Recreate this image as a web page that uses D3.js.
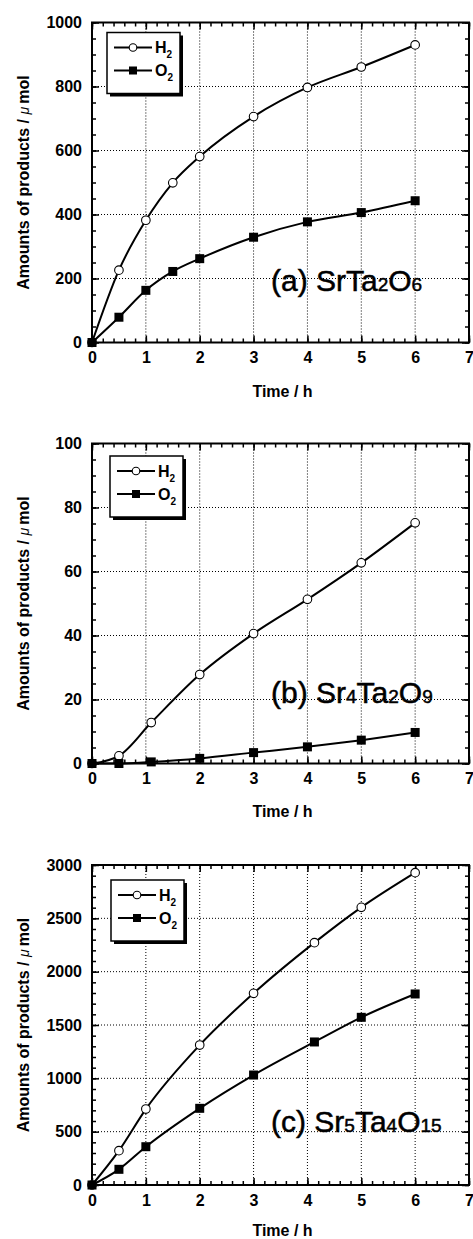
<!DOCTYPE html>
<html>
<head>
<meta charset="utf-8">
<script src="https://cdn.jsdelivr.net/npm/d3@7"></script>
<style>
body { margin: 0; background: #fff; }
text { font-family: "Liberation Sans", Arial, Helvetica, sans-serif; }
</style>
</head>
<body>
<svg width="473" height="1239"></svg>
<script>
// data
var xTicks = [0, 1, 2, 3, 4, 5, 6, 7];

var timeA = [0, 0.5, 1, 1.5, 2, 3, 4, 5, 6];
var h2A = [0, 226, 382, 499, 581, 706, 797, 861, 930];
var o2A = [0, 79, 163, 222, 262, 329, 377, 406, 443];
var yTicksA = [0, 200, 400, 600, 800, 1000];
var labelA = ["(a) SrTa", "2", "O", "6"];

var timeB = [0, 0.5, 1.1, 2, 3, 4, 5, 6];
var h2B = [0, 2.4, 12.8, 27.8, 40.6, 51.3, 62.7, 75.2];
var o2B = [0, 0, 0.5, 1.6, 3.4, 5.2, 7.3, 9.7];
var yTicksB = [0, 20, 40, 60, 80, 100];
var labelB = ["(b) Sr", "4", "Ta", "2", "O", "9"];

var timeC = [0, 0.5, 1, 2, 3, 4.13, 5, 6];
var h2C = [0, 322, 712, 1312, 1797, 2272, 2603, 2928];
var o2C = [0, 147, 359, 719, 1031, 1341, 1572, 1791];
var yTicksC = [0, 500, 1000, 1500, 2000, 2500, 3000];
var labelC = ["(c) Sr", "5", "Ta", "4", "O", "15"];

var seriesNames = ["H", "O"];

var svg = d3.select('svg');
var left = 92, plotW = 377, plotH = 320;

var panels = [
  {top: 22.5, time: timeA, h2: h2A, o2: o2A, yTicks: yTicksA, minor: 50, label: labelA, labelY: 52, leg: [15, 10], titleY: 54},
  {top: 443.5, time: timeB, h2: h2B, o2: o2B, yTicks: yTicksB, minor: 5, label: labelB, labelY: 61, leg: [18, 12.5], titleY: 53},
  {top: 865, time: timeC, h2: h2C, o2: o2C, yTicks: yTicksC, minor: 100, label: labelC, labelY: 53, leg: [19, 15], titleY: 51}
];

function styleAxis(a) {
  a.select('.domain').remove();
  a.selectAll('line').attr('stroke', '#000').attr('stroke-width', 1.5);
  a.attr('font-family', '"Liberation Sans", Arial, sans-serif')
   .attr('font-size', 16).attr('font-weight', 'bold');
  a.selectAll('text').attr('fill', '#000');
}

panels.forEach(function(p) {
  var yMax = p.yTicks[p.yTicks.length - 1];
  var x = d3.scaleLinear().domain([0, 7]).range([0, plotW]);
  var y = d3.scaleLinear().domain([0, yMax]).range([plotH, 0]);
  var g = svg.append('g').attr('transform', 'translate(' + left + ',' + p.top + ')');

  // dotted grid
  g.selectAll('.gx').data(xTicks.slice(1, -1)).enter().append('line')
    .attr('x1', function(d) { return x(d); }).attr('x2', function(d) { return x(d); })
    .attr('y1', 0).attr('y2', plotH)
    .attr('stroke', '#000').attr('stroke-width', 1).attr('stroke-dasharray', '1,2');
  g.selectAll('.gy').data(p.yTicks.slice(1, -1)).enter().append('line')
    .attr('y1', function(d) { return y(d); }).attr('y2', function(d) { return y(d); })
    .attr('x1', 0).attr('x2', plotW)
    .attr('stroke', '#000').attr('stroke-width', 1).attr('stroke-dasharray', '1,2');

  var xMinor = d3.range(0, 7.001, 0.2);
  var yMinor = d3.range(0, yMax + 0.001, p.minor);

  // minor ticks, all four sides, pointing inward
  styleAxis(g.append('g').attr('transform', 'translate(0,' + plotH + ')')
    .call(d3.axisBottom(x).tickValues(xMinor).tickSize(-4).tickFormat('')));
  styleAxis(g.append('g')
    .call(d3.axisTop(x).tickValues(xMinor).tickSize(-4).tickFormat('')));
  styleAxis(g.append('g')
    .call(d3.axisLeft(y).tickValues(yMinor).tickSize(-4).tickFormat('')));
  styleAxis(g.append('g').attr('transform', 'translate(' + plotW + ',0)')
    .call(d3.axisRight(y).tickValues(yMinor).tickSize(-4).tickFormat('')));

  // major ticks with labels
  styleAxis(g.append('g').attr('transform', 'translate(0,' + plotH + ')')
    .call(d3.axisBottom(x).tickValues(xTicks).tickSize(-7).tickPadding(9.5).tickFormat(d3.format('d'))));
  styleAxis(g.append('g')
    .call(d3.axisTop(x).tickValues(xTicks).tickSize(-7).tickFormat('')));
  styleAxis(g.append('g')
    .call(d3.axisLeft(y).tickValues(p.yTicks).tickSize(-7).tickPadding(10).tickFormat(d3.format('d'))));
  styleAxis(g.append('g').attr('transform', 'translate(' + plotW + ',0)')
    .call(d3.axisRight(y).tickValues(p.yTicks).tickSize(-7).tickFormat('')));

  // frame
  g.append('rect').attr('width', plotW).attr('height', plotH)
    .attr('fill', 'none').attr('stroke', '#000').attr('stroke-width', 2);

  var line = d3.line()
    .x(function(d) { return x(d[0]); })
    .y(function(d) { return y(d[1]); })
    .curve(d3.curveMonotoneX);

  var h2pts = d3.zip(p.time, p.h2), o2pts = d3.zip(p.time, p.o2);

  g.append('path').datum(h2pts).attr('d', line)
    .attr('fill', 'none').attr('stroke', '#000').attr('stroke-width', 2);
  g.append('path').datum(o2pts).attr('d', line)
    .attr('fill', 'none').attr('stroke', '#000').attr('stroke-width', 2);

  g.selectAll('.h2').data(h2pts).enter().append('circle')
    .attr('cx', function(d) { return x(d[0]); })
    .attr('cy', function(d) { return y(d[1]); })
    .attr('r', 4.3).attr('fill', '#fff').attr('stroke', '#000').attr('stroke-width', 1.1);
  g.selectAll('.o2').data(o2pts).enter().append('rect')
    .attr('x', function(d) { return x(d[0]) - 4.5; })
    .attr('y', function(d) { return y(d[1]) - 4.5; })
    .attr('width', 9).attr('height', 9).attr('fill', '#000');

  // compound label
  var lab = g.append('text').attr('x', 179).attr('y', plotH - p.labelY)
    .attr('font-size', 30).attr('fill', '#000')
    .attr('stroke', '#000').attr('stroke-width', 0.5);
  p.label.forEach(function(s, i) {
    lab.append('tspan').attr('font-size', i % 2 ? 19 : 30).text(s);
  });

  // legend with drop shadow
  var lg = g.append('g').attr('transform', 'translate(' + p.leg[0] + ',' + p.leg[1] + ')');
  lg.append('rect').attr('x', 3).attr('y', 3).attr('width', 73).attr('height', 61).attr('fill', '#000');
  lg.append('rect').attr('width', 73).attr('height', 61)
    .attr('fill', '#fff').attr('stroke', '#000').attr('stroke-width', 1.5);
  seriesNames.forEach(function(n, i) {
    var ry = 15 + i * 23;
    lg.append('line').attr('x1', 7).attr('x2', 45).attr('y1', ry).attr('y2', ry)
      .attr('stroke', '#000').attr('stroke-width', 1.8);
    if (i === 0) {
      lg.append('circle').attr('cx', 26).attr('cy', ry).attr('r', 3.8)
        .attr('fill', '#fff').attr('stroke', '#000').attr('stroke-width', 1.1);
    } else {
      lg.append('rect').attr('x', 22).attr('y', ry - 4).attr('width', 8).attr('height', 8).attr('fill', '#000');
    }
    var t = lg.append('text').attr('x', 48).attr('y', ry + 5.5)
      .attr('font-size', 16).attr('font-weight', 'bold').attr('fill', '#000');
    t.append('tspan').text(n);
    t.append('tspan').attr('font-size', 10).attr('dy', 5).text('2');
  });

  // axis titles
  g.append('text').attr('x', 190.5).attr('y', plotH + p.titleY)
    .attr('text-anchor', 'middle').attr('font-size', 16).attr('font-weight', 'bold')
    .attr('fill', '#000').text('Time / h');
  var yt = g.append('text')
    .attr('transform', 'translate(' + (28.5 - left) + ',' + (plotH / 2) + ') rotate(-90)')
    .attr('text-anchor', 'middle').attr('font-size', 16).attr('font-weight', 'bold').attr('fill', '#000');
  yt.append('tspan').text('Amounts of products / ');
  yt.append('tspan').attr('font-weight', 'normal').attr('font-style', 'italic').attr('font-size', 14).text('\u03bc');
  yt.append('tspan').text('\u2009mol');
});
</script>
</body>
</html>
